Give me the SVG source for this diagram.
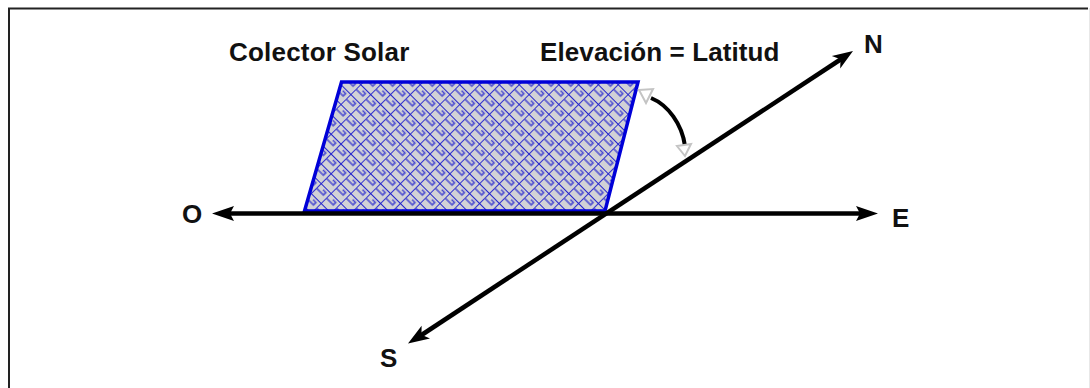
<svg xmlns="http://www.w3.org/2000/svg" width="1090" height="388" viewBox="0 0 1090 388">
<style>
.lbl{font-family:"Liberation Sans",Arial,sans-serif;font-weight:bold;font-size:26px;fill:#111}
.axis{fill:none;stroke:#000;stroke-width:4.500}
.head{fill:#000}
.open{fill:#fff;stroke:#c4c4c4;stroke-width:2}
</style>
<defs>
<pattern id="weave" width="14" height="14" patternUnits="userSpaceOnUse" patternTransform="translate(341 84) rotate(45)">
<rect width="14" height="14" fill="#d2d2d6"/>
<path d="M0 0H14M0 0V14" fill="none" stroke="#2020cc" stroke-width="1.800"/>
<path d="M0 7H10V3.500H6" fill="none" stroke="#4a4ad0" stroke-width="1.600"/>
</pattern>
</defs>
<rect x="0" y="0" width="1090" height="388" fill="#fff"/>
<g id="frame"><path d="M1088 8.500H9V388" fill="none" stroke="#222" stroke-width="2"/><path d="M1089.500 8V388" fill="none" stroke="#e8e8e8" stroke-width="1"/></g>
<g id="collector"><polygon points="341.500,82 638,82 605,211 304.500,211" fill="url(#weave)" stroke="#0000d8" stroke-width="3.500"/></g>
<g id="connectors">
<path class="axis" d="M226 213.500H864"/>
<polygon class="head" points="212,213.500 234,206 230,213.500 234,221"/>
<polygon class="head" points="878,213.500 856,206 860,213.500 856,221"/>
<path class="axis" d="M842 58.500L420 336"/>
<polygon class="head" points="853,51 840.200,68.500 840.500,59.300 831.800,56"/>
<polygon class="head" points="408,343.500 430,338.400 421.500,334.800 421.600,325.800"/>
<path d="M651 98C668 105 682 124 685 146" fill="none" stroke="#000" stroke-width="4"/>
<polygon class="open" points="639,90 653,89 646,103"/>
<polygon class="open" points="677,146 691,144 685,156"/>
</g>
<g id="labels">
<text class="lbl" x="229" y="61" letter-spacing="0.200">Colector Solar</text>
<text class="lbl" x="540" y="61" letter-spacing="0.100">Elevación = Latitud</text>
<text class="lbl" x="864" y="53">N</text>
<text class="lbl" x="182" y="223">O</text>
<text class="lbl" x="892" y="227">E</text>
<text class="lbl" x="380" y="367">S</text>
</g>
</svg>
